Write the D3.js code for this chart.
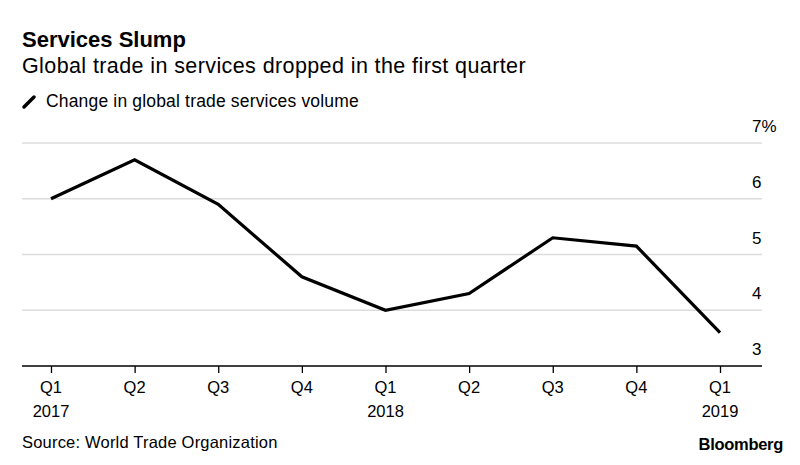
<!DOCTYPE html>
<html><head><meta charset="utf-8">
<script src="https://cdn.jsdelivr.net/npm/d3@7"></script>
<style>body{margin:0;background:#fff}svg{display:block;font-family:"Liberation Sans",Arial,Helvetica,sans-serif}</style>
</head><body><svg id="c" width="800" height="465"></svg>
<script>
const quarters = ["Q1","Q2","Q3","Q4","Q1","Q2","Q3","Q4","Q1"];
const years = ["2017","","","","2018","","","","2019"];
const values = [6.0, 6.7, 5.9, 4.6, 4.0, 4.3, 5.3, 5.15, 3.6];
const yTicks = [3,4,5,6,7];
const yTickLabels = ["3","4","5","6","7%"];

const svg = d3.select("#c");
const x = d3.scalePoint().domain(d3.range(quarters.length)).range([51, 720]);
const y = d3.scaleLinear().domain([3,7]).range([366, 143]);

svg.append("text").attr("x",22).attr("y",47).attr("font-size",22).attr("font-weight","bold").attr("fill","#000").text("Services Slump");
svg.append("text").attr("x",22).attr("y",73).attr("font-size",21.5).attr("letter-spacing",0.4).attr("fill","#000").text("Global trade in services dropped in the first quarter");
svg.append("line").attr("x1",24).attr("y1",107).attr("x2",34).attr("y2",97).attr("stroke","#000").attr("stroke-width",3.5).attr("stroke-linecap","round");
svg.append("text").attr("x",46).attr("y",107).attr("font-size",17.5).attr("letter-spacing",0.17).attr("fill","#000").text("Change in global trade services volume");

// gridlines
svg.append("g").selectAll("line").data(yTicks.filter(d=>d>3)).join("line")
  .attr("x1",22).attr("x2",762).attr("y1",d=>y(d)).attr("y2",d=>y(d))
  .attr("stroke","#dcdcdc").attr("stroke-width",1.3);
svg.append("g").selectAll("text").data(yTicks).join("text")
  .attr("x",752).attr("y",d=>y(d)-11).attr("font-size",17).attr("fill","#000")
  .text((d,i)=>yTickLabels[i]);

// x axis
const xAxis = d3.axisBottom(x).tickSize(7).tickFormat(()=> "");
const ga = svg.append("g").attr("transform","translate(0,366)").call(xAxis);
ga.select(".domain").remove();
ga.selectAll(".tick line").attr("stroke","#000").attr("stroke-width",1.3);
svg.append("line").attr("x1",22).attr("x2",762).attr("y1",366).attr("y2",366).attr("stroke","#000").attr("stroke-width",1.3);
svg.append("g").selectAll("text").data(quarters).join("text")
  .attr("x",(d,i)=>x(i)).attr("y",393).attr("text-anchor","middle").attr("font-size",16.5).attr("fill","#000").text(d=>d);
svg.append("g").selectAll("text").data(years).join("text")
  .attr("x",(d,i)=>x(i)).attr("y",417).attr("text-anchor","middle").attr("font-size",16.5).attr("fill","#000").text(d=>d);

// line
svg.append("path").datum(values)
  .attr("d", d3.line().x((d,i)=>x(i)).y(d=>y(d)))
  .attr("fill","none").attr("stroke","#000").attr("stroke-width",3.2).attr("stroke-linejoin","miter");

svg.append("text").attr("x",22).attr("y",448).attr("font-size",16.5).attr("letter-spacing",0.2).attr("fill","#000").text("Source: World Trade Organization");
svg.append("text").attr("x",783).attr("y",450).attr("text-anchor","end").attr("font-size",16.5).attr("font-weight","bold").attr("letter-spacing",-0.3).attr("fill","#000").text("Bloomberg");
</script></body></html>
